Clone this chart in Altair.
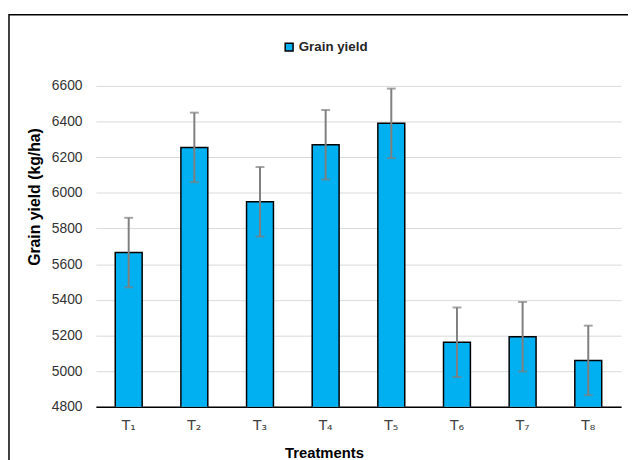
import altair as alt
import pandas as pd

treatments = ["T₁", "T₂", "T₃", "T₄", "T₅", "T₆", "T₇", "T₈"]
grain_yield = [5665, 6255, 5950, 6270, 6390, 5162, 5193, 5060]
errors = [195, 195, 195, 195, 195, 195, 195, 195]
y_ticks = [4800, 5000, 5200, 5400, 5600, 5800, 6000, 6200, 6400, 6600]
series = "Grain yield"

df = pd.DataFrame({
    "Treatment": treatments,
    "Yield": grain_yield,
    "lo": [v - e for v, e in zip(grain_yield, errors)],
    "hi": [v + e for v, e in zip(grain_yield, errors)],
    "Series": [series] * len(treatments),
})

FONT = "Liberation Sans"

xaxis = alt.Axis(title="Treatments", labelAngle=0, ticks=False,
                 domainColor="black", domainWidth=1.5,
                 labelFont="DejaVu Sans", labelFontSize=14, labelColor="#404040",
                 labelPadding=12,
                 titleFont=FONT, titleFontSize=15, titleFontWeight="bold",
                 titleColor="black", titleBaseline="middle",
                 titleX=231, titleY=46)
xscale = alt.Scale(paddingInner=0.59, paddingOuter=0.295)

yaxis = alt.Axis(title="Grain yield (kg/ha)", values=y_ticks, tickCount=10,
                 format="d", labelOverlap=False,
                 ticks=False, domain=False, gridColor="#d9d9d9", gridWidth=1,
                 labelFont=FONT, labelFontSize=14, labelColor="#333333",
                 labelPadding=14,
                 titleFont=FONT, titleFontSize=16, titleFontWeight="bold",
                 titleColor="black", titleBaseline="middle", titleAngle=-90,
                 titleX=-62, titleY=112)
yscale = alt.Scale(domain=[4800, 6600], nice=False, zero=False)

def X():
    return alt.X("Treatment:N", sort=treatments, scale=xscale, axis=xaxis)

def Y(field):
    return alt.Y(field, type="quantitative", scale=yscale, axis=yaxis, title="Grain yield (kg/ha)")

bars = alt.Chart(df).mark_bar(stroke="black", strokeWidth=1.5, clip=True).encode(
    x=X(),
    y=Y("Yield"),
    color=alt.Color("Series:N",
                    scale=alt.Scale(domain=[series], range=["#00B0F0"]),
                    legend=alt.Legend(title=None, orient="none", legendX=189, legendY=-46,
                                      symbolType="square", symbolSize=64,
                                      symbolStrokeColor="black", symbolStrokeWidth=1.5,
                                      labelFont=FONT, labelFontSize=13.5,
                                      labelFontWeight="bold", labelColor="#262626",
                                      labelOffset=3)),
)

rules = alt.Chart(df).mark_rule(color="#7f7f7f", strokeWidth=2).encode(
    x=X(), y=Y("lo"), y2="hi:Q")

caps_hi = alt.Chart(df).mark_tick(color="#7f7f7f", thickness=2, size=9).encode(
    x=X(), y=Y("hi"))
caps_lo = alt.Chart(df).mark_tick(color="#7f7f7f", thickness=2, size=9).encode(
    x=X(), y=Y("lo"))

frame = alt.Chart(pd.DataFrame({"a": [0]})).mark_rect(
    fill=None, stroke="black", strokeWidth=1.5, clip=False).encode(
    x=alt.value(-88), x2=alt.value(600), y=alt.value(-72), y2=alt.value(400))

chart = alt.layer(bars, rules, caps_hi, caps_lo, frame).properties(
    width=532, height=325,
    autosize=alt.AutoSizeParams(type="none"),
    padding={"left": 89, "top": 76, "right": 7, "bottom": 51},
).configure_view(stroke=None)

chart.save("out.html", embed_options={"renderer": "svg", "actions": False})
